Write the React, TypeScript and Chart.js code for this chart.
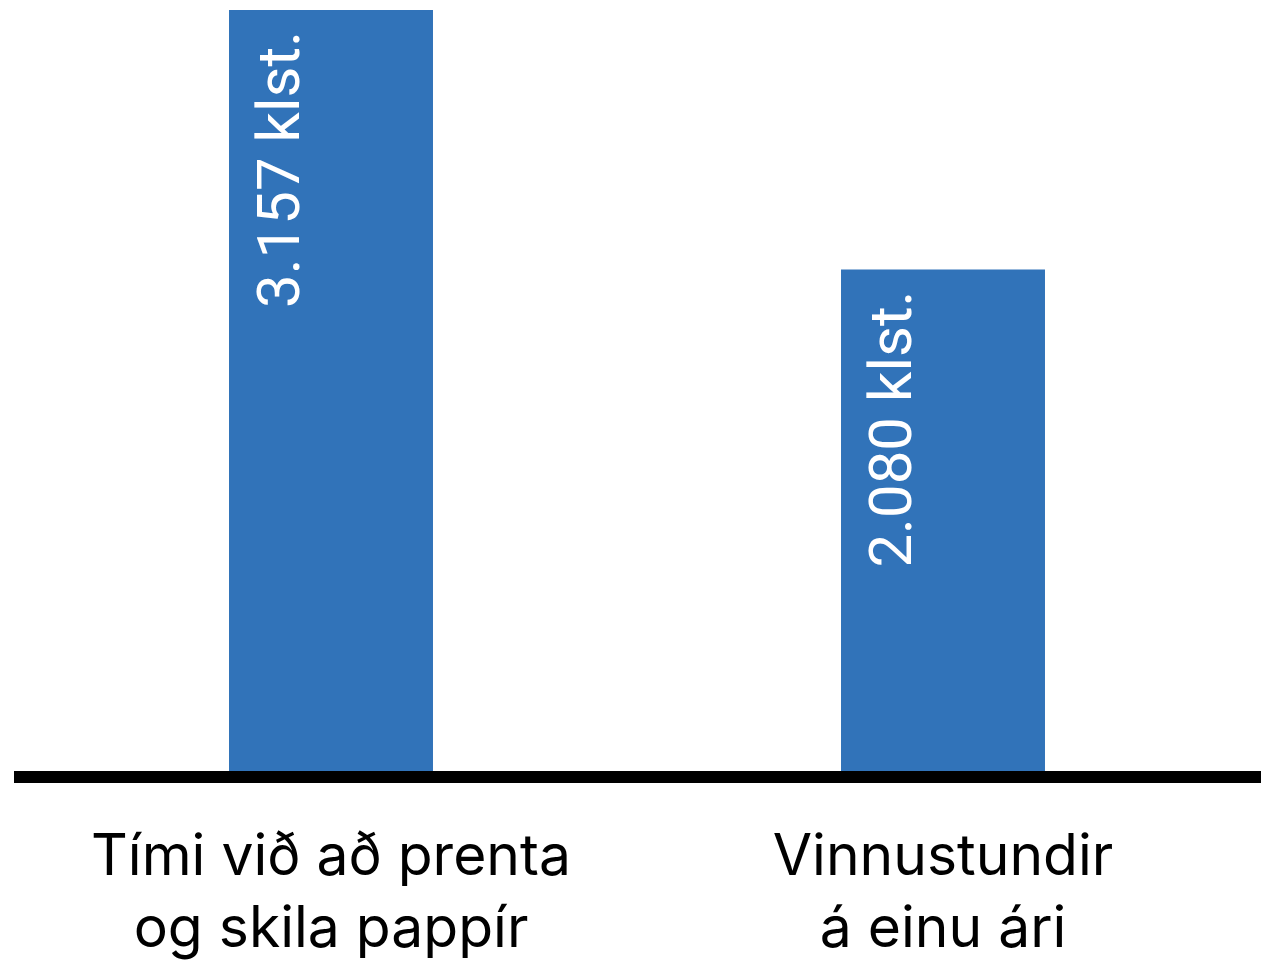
import React, { useEffect, useRef } from 'react';
import { Chart, registerables } from 'chart.js';

Chart.register(...registerables);

const categories: string[][] = [
  ['Tími við að prenta', 'og skila pappír'],
  ['Vinnustundir', 'á einu ári'],
];
const hours: number[] = [3157, 2080];
const valueSuffix = ' klst.';
const yMax = 3157;

const fmt = (v: number) => String(v).replace(/\B(?=(\d{3})+(?!\d))/g, '.');

const valueLabels = {
  id: 'valueLabels',
  afterDatasetsDraw(chart: any) {
    const ctx = chart.ctx;
    const meta = chart.getDatasetMeta(0);
    meta.data.forEach((bar: any, i: number) => {
      const { x, y } = bar.getProps(['x', 'y'], true);
      ctx.save();
      ctx.translate(x - 32, y + 21);
      ctx.rotate(-Math.PI / 2);
      ctx.font = '60px Roboto';
      ctx.fillStyle = '#ffffff';
      ctx.textAlign = 'right';
      ctx.textBaseline = 'alphabetic';
      ctx.fillText(fmt(hours[i]) + valueSuffix, 0, 0);
      ctx.restore();
    });
  },
};

const baseline = {
  id: 'baseline',
  afterDatasetsDraw(chart: any) {
    const { ctx, chartArea } = chart;
    ctx.save();
    ctx.fillStyle = '#000000';
    ctx.fillRect(14, chartArea.bottom, chart.width - 14, 12);
    ctx.restore();
  },
};

export default function App() {
  const ref = useRef<HTMLCanvasElement | null>(null);
  useEffect(() => {
    if (!ref.current) return;
    const chart = new Chart(ref.current, {
      type: 'bar',
      data: {
        labels: categories,
        datasets: [
          {
            data: hours,
            backgroundColor: '#3173b9',
            barPercentage: 0.3333,
            categoryPercentage: 1,
          },
        ],
      },
      options: {
        animation: false,
        responsive: true,
        maintainAspectRatio: false,
        layout: { padding: { left: 25, right: 12, top: 10, bottom: 0 } },
        plugins: { legend: { display: false }, tooltip: { enabled: false } },
        scales: {
          x: {
            grid: { display: false, drawTicks: false },
            border: { display: false },
            ticks: {
              color: '#000000',
              font: { family: 'Inter', size: 57, lineHeight: 72 / 57 },
              padding: 51,
              maxRotation: 0,
              autoSkip: false,
            },
            afterFit: (s: any) => {
              s.height = 193;
            },
          },
          y: { display: false, min: 0, max: yMax },
        },
      },
      plugins: [valueLabels, baseline],
    });
    return () => chart.destroy();
  }, []);
  return (
    <div style={{ position: 'absolute', left: 0, top: 0, width: 1261, height: 964 }}>
      <canvas ref={ref} />
    </div>
  );
}
